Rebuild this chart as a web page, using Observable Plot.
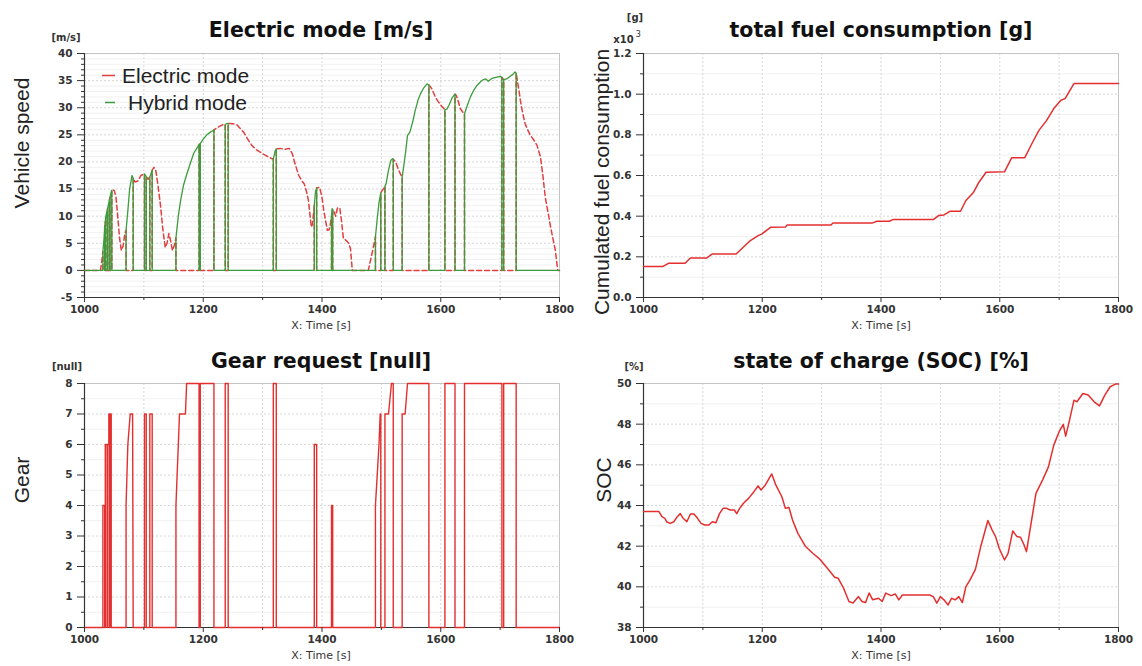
<!DOCTYPE html>
<html><head><meta charset="utf-8">
<script src="https://cdn.jsdelivr.net/npm/d3@7"></script>
<script src="https://cdn.jsdelivr.net/npm/@observablehq/plot@0.6"></script>
<style>
body{margin:0;background:#fff;width:1142px;height:666px;position:relative;overflow:hidden;font-family:"DejaVu Sans",sans-serif}
.abs{position:absolute;white-space:nowrap;line-height:1}
.title{font-weight:bold;font-size:20.5px;font-family:"DejaVu Sans";color:#111;transform:translate(-50%,-50%)}
.unit{font-weight:bold;font-size:10px;font-family:"DejaVu Sans";color:#333;transform:translate(-50%,-50%)}
.xlab{font-size:11px;font-family:"DejaVu Sans";color:#333;transform:translate(-50%,-50%)}
.ylab{font-size:21px;font-family:"Liberation Sans",Arial,sans-serif;color:#222;transform:translate(-50%,-50%) rotate(-90deg)}
.leg{font-size:21px;font-family:"Liberation Sans",Arial,sans-serif;color:#222;transform:translateY(-50%)}
svg{position:absolute}
</style></head><body>
<script>
// ---------- axes ----------
const timeTicks = [1000, 1200, 1400, 1600, 1800];
const timeMinor = [1100, 1300, 1500, 1700];
const timeGrid = [1100, 1200, 1300, 1400, 1500, 1600, 1700];
const speedTicks = [-5, 0, 5, 10, 15, 20, 25, 30, 35, 40];
const speedMinor = [-4,-3,-2,-1,1,2,3,4,6,7,8,9,11,12,13,14,16,17,18,19,21,22,23,24,26,27,28,29,31,32,33,34,36,37,38,39];
const fuelTicks = [0, 0.2, 0.4, 0.6, 0.8, 1.0, 1.2];
const fuelMinor = [0.1, 0.3, 0.5, 0.7, 0.9, 1.1];
const gearTicks = [0, 1, 2, 3, 4, 5, 6, 7, 8];
const gearMinor = [0.5, 1.5, 2.5, 3.5, 4.5, 5.5, 6.5, 7.5];
const socTicks = [38, 40, 42, 44, 46, 48, 50];
const socMinor = [39, 41, 43, 45, 47, 49];

// ---------- series: [time s, value] ----------
const electricMode = [[1000,0],[1027,0],[1030,2.5],[1031,3.5],[1031,0],[1034,0],[1034,8],[1035,9],[1035,0],[1038,0],[1038,11],[1039,11.5],[1039,0],[1042,0],[1042,13],[1043,13.5],[1043,0],[1046,0],[1046,14.8],[1050,14.8],[1053,13.5],[1056,10],[1059,6],[1062,3.7],[1065,4.5],[1068,6.8],[1070,7.4],[1070,0],[1082,0],[1082,17],[1085,16.3],[1090,16.5],[1095,17.5],[1101,17.8],[1101,0],[1104,0],[1104,17.3],[1107,16.8],[1110,17.2],[1110,0],[1114,0],[1114,18.5],[1117,19],[1120,18.5],[1124,15.5],[1128,12],[1132,7.5],[1136,4.2],[1139,5],[1142,6.8],[1145,5.5],[1148,3.7],[1151,4.5],[1154,6],[1154,0],[1193,0],[1193,23.2],[1195,23.4],[1195,0],[1218,0],[1218,25.9],[1222,26.2],[1228,26.6],[1234,26.9],[1237,26.9],[1237,0],[1242,0],[1242,27.1],[1246,27.1],[1252,27],[1257,26.8],[1262,26.2],[1268,25.5],[1275,24.2],[1282,23],[1289,22.3],[1296,21.8],[1305,21.2],[1312,20.8],[1318,20.5],[1318,0],[1323,0],[1323,22.4],[1330,22.5],[1337,22.3],[1345,22.5],[1350,21.5],[1355,19.5],[1361,17.5],[1366,16.5],[1370,16],[1374,14.5],[1377,13],[1380,10],[1382,8],[1384,8.5],[1387,12],[1387,0],[1391,0],[1391,15.2],[1396,15.3],[1400,13.5],[1403,11],[1406,9.2],[1409,7.4],[1412,7.5],[1414,8.5],[1416,10],[1416,0],[1418,0],[1418,11.2],[1420,11],[1423,10],[1426,11.5],[1430,11.5],[1433,9],[1436,5.9],[1441,5.5],[1445,5],[1448,4],[1451,0],[1478,0],[1482,2],[1486,4],[1490,6.2],[1490,0],[1499,0],[1499,14.3],[1502,14.8],[1506,15.5],[1506,0],[1520,0],[1520,20.5],[1524,20],[1528,18.8],[1532,17.8],[1535,17.2],[1535,0],[1580,0],[1580,34.2],[1585,33.5],[1590,32.2],[1594,31.4],[1600,30.5],[1607,29.6],[1607,0],[1624,0],[1624,32.5],[1626,32.3],[1630,31],[1633,29.8],[1637,29.2],[1640,28.9],[1640,0],[1703,0],[1703,35.6],[1706,35.2],[1706,0],[1727,0],[1727,36.4],[1729,35],[1732,33],[1734,31.4],[1738,29],[1742,27.1],[1746,26],[1751,24.9],[1757,24],[1762,23.1],[1768,20.9],[1772,17.5],[1776,13.5],[1781,10.5],[1785,8],[1789,5.8],[1793,3.7],[1797,0],[1800,0]];

const hybridMode = [[1000,0],[1031,0],[1031,3.5],[1033,6],[1034,8],[1034,0],[1035,0],[1035,9],[1036,10],[1038,11],[1038,0],[1039,0],[1039,11.5],[1042,13],[1042,0],[1043,0],[1043,13.5],[1045,14.5],[1046,14.8],[1046,0],[1070,0],[1070,7.4],[1073,11],[1076,15],[1080,17.5],[1082,17],[1082,0],[1101,0],[1101,17.8],[1104,17.3],[1104,0],[1110,0],[1110,17.2],[1114,18.5],[1114,0],[1154,0],[1154,6],[1158,10],[1162,13],[1167,15.8],[1173,18],[1179,20],[1184,21.6],[1190,22.7],[1193,23.2],[1193,0],[1195,0],[1195,23.4],[1200,24.2],[1206,25],[1212,25.5],[1218,25.9],[1218,0],[1237,0],[1237,26.9],[1240,27.1],[1242,27.1],[1242,0],[1318,0],[1318,20.5],[1321,22],[1323,22.4],[1323,0],[1387,0],[1387,12],[1389,14.5],[1391,15.2],[1391,0],[1416,0],[1416,10],[1417,11.4],[1418,11.2],[1418,0],[1490,0],[1490,6.2],[1493,9.5],[1496,12.5],[1499,14.3],[1499,0],[1506,0],[1506,15.5],[1508,16],[1512,18.5],[1516,20.3],[1519,20.6],[1520,20.5],[1520,0],[1535,0],[1535,17.2],[1538,19.5],[1541,22],[1544,24.9],[1548,25.5],[1553,27.5],[1557,29.5],[1562,31.5],[1566,32.6],[1571,33.6],[1577,34.4],[1580,34.2],[1580,0],[1607,0],[1607,29.6],[1610,29.7],[1614,30.5],[1619,31.8],[1624,32.5],[1624,0],[1640,0],[1640,28.9],[1645,30.5],[1650,32],[1656,33.3],[1661,34.1],[1667,34.8],[1672,35.2],[1676,35.3],[1680,34.9],[1686,35.4],[1693,35.6],[1700,35.8],[1703,35.6],[1703,0],[1706,0],[1706,35.2],[1711,35.3],[1717,35.8],[1722,36.2],[1725,36.6],[1727,36.4],[1727,0],[1800,0]];

// cumulated fuel, x10^3 g
const fuelConsumption = [[1000,0.153],[1033,0.153],[1042,0.168],[1070,0.168],[1079,0.194],[1106,0.194],[1116,0.214],[1156,0.214],[1180,0.28],[1193,0.304],[1199,0.312],[1214,0.345],[1239,0.347],[1242,0.357],[1316,0.357],[1319,0.367],[1386,0.367],[1393,0.375],[1414,0.375],[1420,0.383],[1488,0.383],[1497,0.403],[1506,0.406],[1516,0.424],[1534,0.424],[1543,0.477],[1556,0.518],[1565,0.567],[1577,0.616],[1608,0.618],[1620,0.687],[1642,0.687],[1654,0.756],[1666,0.822],[1679,0.871],[1691,0.929],[1703,0.97],[1710,0.978],[1725,1.052],[1800,1.052]];

const gearRequest = [[1000,0],[1031,0],[1031,4],[1034,4],[1034,0],[1035,0],[1035,6],[1038,6],[1038,0],[1039,0],[1039,6],[1041,6],[1041,7],[1042,7],[1042,0],[1043,0],[1043,7],[1045,7],[1045,0],[1070,0],[1070,4],[1073,6],[1077,7],[1081,7],[1082,0],[1101,0],[1101,7],[1104,7],[1104,0],[1110,0],[1110,7],[1114,7],[1114,0],[1154,0],[1154,4],[1160,7],[1170,7],[1172,8],[1193,8],[1193,0],[1195,0],[1195,8],[1218,8],[1218,0],[1237,0],[1237,8],[1242,8],[1242,0],[1318,0],[1318,8],[1323,8],[1323,0],[1387,0],[1387,6],[1391,6],[1391,0],[1416,0],[1416,4],[1418,4],[1418,0],[1490,0],[1490,4],[1496,6],[1498,7],[1499,7],[1499,0],[1506,0],[1506,7],[1512,7],[1517,8],[1520,8],[1520,0],[1535,0],[1535,7],[1540,7],[1544,8],[1580,8],[1580,0],[1607,0],[1607,8],[1624,8],[1624,0],[1640,0],[1640,8],[1703,8],[1703,0],[1706,0],[1706,8],[1727,8],[1727,0],[1800,0]];

const stateOfCharge = [[1000,43.7],[1026,43.7],[1031,43.45],[1036,43.37],[1039,43.2],[1045,43.12],[1051,43.2],[1057,43.45],[1062,43.6],[1066,43.4],[1073,43.2],[1079,43.58],[1085,43.58],[1091,43.37],[1097,43.12],[1103,43.04],[1110,43.04],[1116,43.2],[1122,43.15],[1128,43.6],[1134,43.86],[1140,43.86],[1146,43.78],[1153,43.78],[1157,43.6],[1162,43.86],[1168,44.1],[1177,44.35],[1186,44.68],[1193,44.96],[1198,44.76],[1205,45.0],[1216,45.55],[1223,45.0],[1233,44.43],[1239,43.86],[1245,43.9],[1251,43.29],[1260,42.63],[1273,41.98],[1285,41.65],[1297,41.36],[1310,40.9],[1322,40.47],[1328,40.42],[1337,39.93],[1346,39.28],[1353,39.2],[1362,39.52],[1368,39.28],[1374,39.23],[1380,39.7],[1386,39.36],[1396,39.44],[1402,39.28],[1408,39.69],[1417,39.57],[1424,39.65],[1430,39.36],[1436,39.6],[1482,39.6],[1488,39.52],[1494,39.2],[1500,39.52],[1506,39.36],[1513,39.11],[1519,39.44],[1525,39.36],[1531,39.52],[1537,39.23],[1543,40.01],[1550,40.34],[1559,40.86],[1568,41.98],[1580,43.26],[1587,42.8],[1593,42.47],[1599,41.9],[1608,41.32],[1614,41.65],[1622,42.75],[1629,42.47],[1635,42.44],[1641,42.06],[1645,41.73],[1651,42.8],[1661,44.6],[1672,45.25],[1682,45.9],[1691,46.97],[1700,47.63],[1707,47.99],[1711,47.41],[1716,48.0],[1725,49.18],[1730,49.1],[1740,49.51],[1749,49.43],[1759,49.1],[1768,48.9],[1777,49.43],[1786,49.84],[1795,49.97],[1800,49.97]];

// ---------- drawing ----------
const RED = "#e42f2f";
function panel({left, top, mL, mR, yDomain, yMajor, yMinor, yFmt, lines}) {
  const svg = Plot.plot({
    width: 571, height: 330,
    marginLeft: mL, marginRight: mR, marginTop: 53, marginBottom: 33,
    x: {domain: [1000, 1800]},
    y: {domain: yDomain},
    style: {background: "transparent", color: "#333", overflow: "visible"},
    marks: [
      Plot.gridY(yMinor, {stroke: "#f1f1f1", strokeOpacity: 1}),
      Plot.gridY(yMajor, {stroke: "#d6d6d6", strokeOpacity: 1, strokeDasharray: "2,2"}),
      Plot.gridX(timeGrid, {stroke: "#d6d6d6", strokeOpacity: 1, strokeDasharray: "2,2"}),
      Plot.frame({stroke: "#c4c4c4"}),
      Plot.ruleX([1000], {stroke: "#333", strokeWidth: 1.2}),
      Plot.ruleY([yDomain[0]], {stroke: "#333", strokeWidth: 1.2}),
      ...lines,
      Plot.axisY(yMinor, {tickSize: 3, tickFormat: () => "", label: null}),
      Plot.axisY(yMajor, {tickSize: 7, tickPadding: 5, tickFormat: yFmt, label: null,
        fontWeight: "bold", fontSize: 10.5, fontFamily: "DejaVu Sans"}),
      Plot.axisX(timeMinor, {tickSize: 3, tickFormat: () => "", label: null}),
      Plot.axisX(timeTicks, {tickSize: 5, tickPadding: 3, tickFormat: d => String(d), label: null,
        fontWeight: "bold", fontSize: 10.5, fontFamily: "DejaVu Sans"})
    ]
  });
  svg.style.left = left + "px";
  svg.style.top = top + "px";
  document.body.appendChild(svg);
}
const X = d => d[0], Y = d => d[1];

panel({left: 0, top: 0, mL: 84, mR: 12, yDomain: [-5, 40], yMajor: speedTicks, yMinor: speedMinor,
  yFmt: d => String(d),
  lines: [
    Plot.line(electricMode, {x: X, y: Y, stroke: "#e04040", strokeWidth: 1.5, strokeDasharray: "5,3"}),
    Plot.line(hybridMode, {x: X, y: Y, stroke: "#3c9c3c", strokeWidth: 1.3})
  ]});
panel({left: 571, top: 0, mL: 72, mR: 24, yDomain: [0, 1.2], yMajor: fuelTicks, yMinor: fuelMinor,
  yFmt: d3.format(".1f"),
  lines: [Plot.line(fuelConsumption, {x: X, y: Y, stroke: RED, strokeWidth: 1.5})]});
panel({left: 0, top: 330, mL: 84, mR: 12, yDomain: [0, 8], yMajor: gearTicks, yMinor: gearMinor,
  yFmt: d => String(d),
  lines: [Plot.line(gearRequest, {x: X, y: Y, stroke: RED, strokeWidth: 1.4})]});
panel({left: 571, top: 330, mL: 72, mR: 24, yDomain: [38, 50], yMajor: socTicks, yMinor: socMinor,
  yFmt: d => String(d),
  lines: [Plot.line(stateOfCharge, {x: X, y: Y, stroke: RED, strokeWidth: 1.5})]});

// ---------- texts ----------
function txt(cls, x, y, html) {
  const d = document.createElement("div");
  d.className = "abs " + cls;
  d.style.left = x + "px"; d.style.top = y + "px";
  d.innerHTML = html;
  document.body.appendChild(d);
  return d;
}
txt("title", 321, 30, "Electric mode [m/s]");
txt("title", 881, 30, "total fuel consumption [g]");
txt("title", 321, 361, "Gear request [null]");
txt("title", 881, 361, "state of charge (SOC) [%]");
txt("unit", 66, 38, "[m/s]");
txt("unit", 635, 18, "[g]");
txt("unit", 67, 367, "[null]");
txt("unit", 634, 367, "[%]");
txt("unit", 626, 40, "x10<span style='font-weight:normal;font-size:8px;position:relative;top:-6px;left:2px'>3</span>");
txt("xlab", 321, 325, "X: Time [s]");
txt("xlab", 881, 325, "X: Time [s]");
txt("xlab", 321, 655, "X: Time [s]");
txt("xlab", 881, 655, "X: Time [s]");
txt("ylab", 21, 143, "Vehicle speed");
txt("ylab", 601, 182, "Cumulated fuel consumption");
txt("ylab", 21, 480, "Gear");
txt("ylab", 603, 480, "SOC");
// legend
txt("leg", 102, 75, "<svg width='14' height='4' style='position:relative;top:-5px;margin-right:6px'><line x1='0' y1='2' x2='13' y2='2' stroke='#e04040' stroke-width='1.6'/></svg>Electric mode");
txt("leg", 105, 102, "<svg width='10' height='4' style='position:relative;top:-5px;margin-right:13px'><line x1='0' y1='2' x2='10' y2='2' stroke='#3c9c3c' stroke-width='1.4'/></svg>Hybrid mode");
</script>
</body></html>
